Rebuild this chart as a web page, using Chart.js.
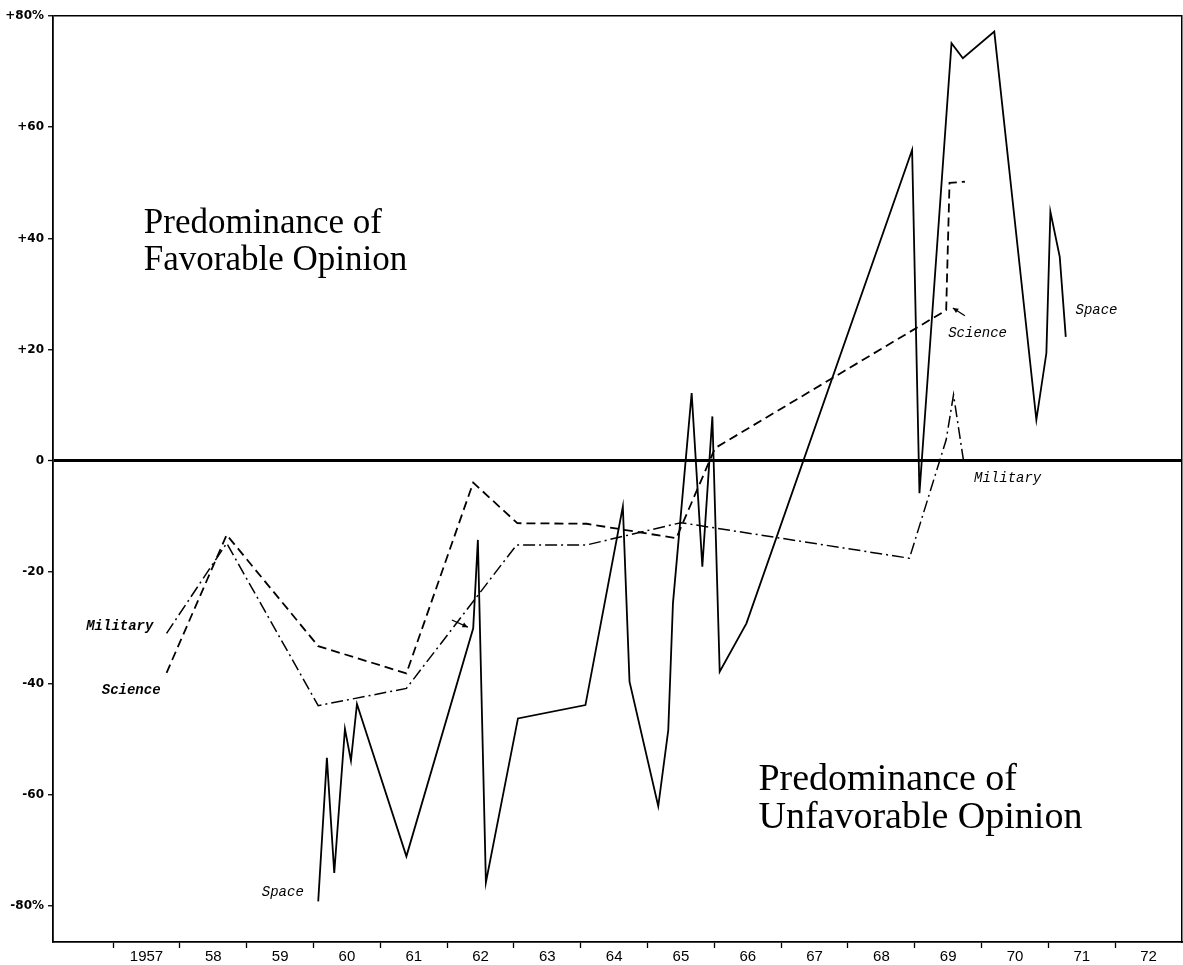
<!DOCTYPE html>
<html>
<head>
<meta charset="utf-8">
<script src="https://cdn.jsdelivr.net/npm/chart.js@4.4.1/dist/chart.umd.min.js"></script>
<style>
  html, body { margin: 0; padding: 0; background: #fff; }
  #wrap { width: 1183px; height: 965px; position: relative; }
</style>
</head>
<body>
<div id="wrap"><canvas id="opinionChart"></canvas></div>
<script>
// ===== DATA =====
const yearLabels = ['1957', '58', '59', '60', '61', '62', '63', '64', '65', '66', '67', '68', '69', '70', '71', '72'];
const yTickValues = [-80, -60, -40, -20, 0, 20, 40, 60, 80];
const yTickLabels = ['-80%', '-60', '-40', '-20', '0', '+20', '+40', '+60', '+80%'];

const spaceX = [1960.07, 1960.20, 1960.31, 1960.47, 1960.56, 1960.65, 1961.39, 1962.39, 1962.46, 1962.58,
  1963.06, 1964.07, 1964.63, 1964.73, 1965.16, 1965.31, 1965.38, 1965.66, 1965.82, 1965.97,
  1966.08, 1966.48, 1968.96, 1969.07, 1969.55, 1969.72, 1970.19, 1970.82, 1970.97, 1971.03,
  1971.17, 1971.26];
const spaceY = [-79.2, -53.4, -74.1, -48.2, -53.9, -43.7, -71.1, -30.1, -14.2, -75.8,
  -46.3, -43.9, -8.2, -39.7, -62.1, -48.4, -25.6, 12.2, -19.0, 8.0,
  -37.9, -29.2, 55.9, -5.8, 75.1, 72.4, 77.2, 7.4, 19.4, 44.8,
  36.7, 22.3];

const scienceX = [1957.80, 1958.70, 1960.07, 1961.39, 1962.39, 1963.05, 1964.09, 1965.43, 1966.01, 1969.47, 1969.52, 1969.75];
const scienceY = [-38.1, -13.3, -33.3, -38.2, -3.9, -11.2, -11.3, -13.9, 2.3, 27.1, 50.0, 50.2];

const militaryX = [1957.80, 1958.70, 1960.07, 1961.39, 1963.04, 1964.09, 1965.50, 1968.92, 1969.47, 1969.58, 1969.73];
const militaryY = [-31.0, -14.8, -44.0, -40.9, -15.1, -15.1, -11.1, -17.5, 3.8, 11.9, 0];

// series name labels (x in years, y in %)
const seriesNames = ['Military', 'Science', 'Space', 'Science', 'Space', 'Military'];
const seriesNameX = [1957.10, 1957.27, 1959.54, 1969.94, 1971.72, 1970.39];
const seriesNameY = [-29.7, -41.2, -77.5, 23.0, 27.1, -3.1];

// big notes
const noteText = ['Predominance of', 'Favorable Opinion', 'Predominance of', 'Unfavorable Opinion'];
const noteX = [1957.46, 1957.46, 1966.66, 1966.66];
const noteY = [41.0, 34.4, -59.1, -66.0];

// little arrows: [fromX, fromY, toX, toY]
const arrows = [
  [1969.75, 26.1, 1969.57, 27.5],
  [1962.07, -28.6, 1962.31, -29.9]
];

const toPts = (xs, ys) => xs.map((x, i) => ({ x, y: ys[i] }));

// ===== ANNOTATIONS =====
const notesPlugin = {
  id: 'notes',
  afterDatasetsDraw(chart) {
    const { ctx, scales: { x, y } } = chart;
    ctx.save();
    ctx.fillStyle = '#000';
    ctx.strokeStyle = '#000';

    // big serif notes
    ctx.textAlign = 'left';
    ctx.textBaseline = 'alphabetic';
    noteText.forEach((t, i) => {
      ctx.font = (i < 2 ? '35px' : '38px') + ' "Liberation Serif", "DejaVu Serif", serif';
      ctx.fillText(t, x.getPixelForValue(noteX[i]), y.getPixelForValue(noteY[i]));
    });

    // series names
    ctx.textAlign = 'center';
    ctx.textBaseline = 'middle';
    seriesNames.forEach((t, i) => {
      ctx.font = (i < 2 ? 'bold ' : '') + 'italic 14px "Liberation Mono", "DejaVu Sans Mono", monospace';
      ctx.fillText(t, x.getPixelForValue(seriesNameX[i]), y.getPixelForValue(seriesNameY[i]));
    });

    // arrows
    ctx.lineWidth = 1.3;
    arrows.forEach(a => {
      const x1 = x.getPixelForValue(a[0]), y1 = y.getPixelForValue(a[1]);
      const x2 = x.getPixelForValue(a[2]), y2 = y.getPixelForValue(a[3]);
      ctx.beginPath();
      ctx.moveTo(x1, y1);
      ctx.lineTo(x2, y2);
      ctx.stroke();
      const ang = Math.atan2(y2 - y1, x2 - x1);
      ctx.beginPath();
      ctx.moveTo(x2, y2);
      ctx.lineTo(x2 - 6 * Math.cos(ang - 0.45), y2 - 6 * Math.sin(ang - 0.45));
      ctx.lineTo(x2 - 6 * Math.cos(ang + 0.45), y2 - 6 * Math.sin(ang + 0.45));
      ctx.closePath();
      ctx.fill();
    });
    ctx.restore();
  }
};

// ===== CHART =====
const lineDs = (label, pts, dash, width) => ({
  label,
  data: pts,
  borderColor: '#000',
  borderWidth: width,
  borderDash: dash,
  pointRadius: 0,
  tension: 0,
  fill: false
});

new Chart(document.getElementById('opinionChart'), {
  type: 'line',
  data: {
    datasets: [
      lineDs('Space', toPts(spaceX, spaceY), [], 1.8),
      lineDs('Science', toPts(scienceX, scienceY), [9, 5], 1.8),
      lineDs('Military', toPts(militaryX, militaryY), [12, 4, 2, 4], 1.5)
    ]
  },
  options: {
    responsive: true,
    maintainAspectRatio: false,
    animation: false,
    layout: { padding: { top: 16, right: 1, left: 0, bottom: 0 } },
    plugins: {
      legend: { display: false },
      tooltip: { enabled: false }
    },
    scales: {
      x: {
        type: 'linear',
        min: 1956.1,
        max: 1973,
        afterBuildTicks: s => {
          const t = [];
          yearLabels.forEach((_, i) => {
            t.push({ value: 1957 + i });
            t.push({ value: 1957.5 + i });
          });
          s.ticks = t;
        },
        afterFit: s => { s.height = 23; },
        border: { color: '#000', width: 1.8 },
        grid: {
          drawOnChartArea: false,
          tickLength: 6,
          tickWidth: 1.3,
          tickColor: c => Number.isInteger(c.tick.value) ? '#000' : 'rgba(0,0,0,0)'
        },
        ticks: {
          autoSkip: false,
          maxRotation: 0,
          padding: 0,
          color: '#000',
          font: { family: '"Liberation Sans", Arial, sans-serif', size: 15 },
          callback: v => Number.isInteger(v) ? '' : yearLabels[Math.floor(v) - 1957]
        }
      },
      y: {
        min: -86.5,
        max: 80,
        afterBuildTicks: s => { s.ticks = yTickValues.map(v => ({ value: v })); },
        afterFit: s => { s.width = 53; },
        border: { color: '#000', width: 1.8 },
        grid: {
          color: c => (c.tick && (c.tick.value === 0 || c.tick.value === 80)) ? '#000' : 'rgba(0,0,0,0)',
          lineWidth: c => (c.tick && c.tick.value === 0) ? 3 : 1.5,
          tickLength: 5,
          tickColor: '#000',
          tickWidth: 1.3
        },
        ticks: {
          padding: 4,
          color: '#000',
          font: { family: '"DejaVu Sans", sans-serif', size: 12, weight: 'bold' },
          callback: v => yTickLabels[yTickValues.indexOf(v)]
        }
      },
      yRight: {
        position: 'right',
        min: -86.5,
        max: 80,
        afterFit: s => { s.width = 0; },
        border: { color: '#000', width: 1.5 },
        grid: { drawOnChartArea: false, drawTicks: false },
        ticks: { display: false }
      }
    }
  },
  plugins: [notesPlugin]
});
</script>
</body>
</html>
